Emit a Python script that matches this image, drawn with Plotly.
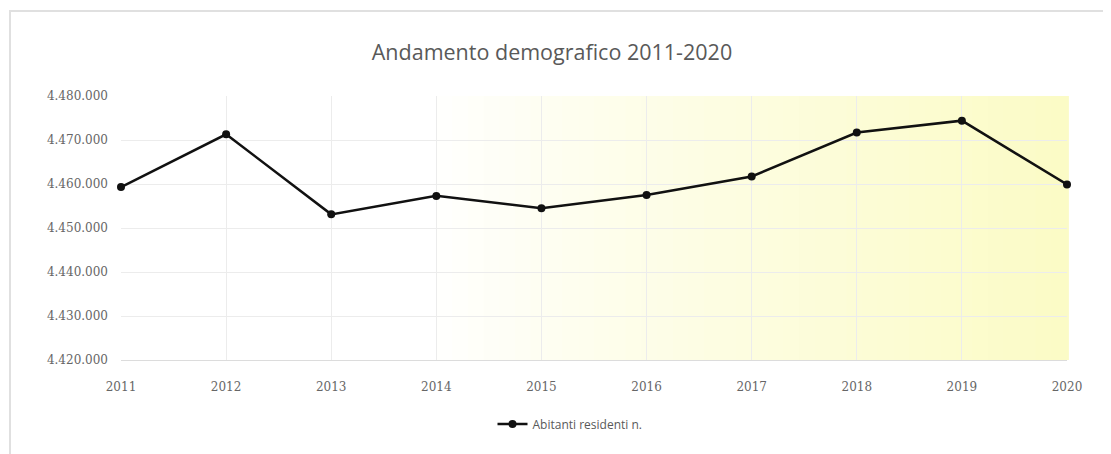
import plotly.graph_objects as go

years = [2011, 2012, 2013, 2014, 2015, 2016, 2017, 2018, 2019, 2020]
abitanti = [4459300, 4471300, 4453100, 4457300, 4454500, 4457500, 4461700, 4471700, 4474400, 4459900]
series_name = "Abitanti residenti n."
title = "Andamento demografico 2011-2020"
y_ticks = [4420000, 4430000, 4440000, 4450000, 4460000, 4470000, 4480000]

W, H = 1111, 454
OFF = 8  # page body margin
# target plot area in screenshot pixels
PL, PR, PT, PB = 121, 1067, 96, 360
pw, ph = PR - PL, PB - PT
L = PL - OFF
T = PT - OFF
R = W - (PR - OFF)
B = H - (PB - OFF)

def px_x(p):
    return (p - PL) / pw

def px_y(p):
    return (PB - p) / ph

shapes = []
# horizontal gradient (white -> pale yellow) in the plot area
n = 60
start = 0.32
for i in range(n):
    x0 = i / n
    x1 = (i + 1) / n
    t = max(0.0, (x0 - start) / (1 - start))
    t = t ** 0.85
    r = 255 - int(round(t * 4))
    g = 255 - int(round(t * 4))
    b = 255 - int(round(t * 58))
    shapes.append(dict(type="rect", xref="x domain", yref="y domain", x0=x0, x1=x1 + 0.002,
                       y0=0, y1=1, fillcolor=f"rgb({r},{g},{b})", line=dict(width=0), layer="below"))
# outer chart frame
shapes.append(dict(type="rect", xref="paper", yref="paper",
                   x0=px_x(10), x1=px_x(1109), y0=px_y(470), y1=px_y(11),
                   line=dict(color="#e0e0e0", width=2), fillcolor="rgba(0,0,0,0)"))

fig = go.Figure()
fig.add_trace(go.Scatter(
    x=years, y=abitanti, name=series_name, mode="lines+markers",
    line=dict(color="#111111", width=2.5),
    marker=dict(color="#111111", size=8),
    cliponaxis=False,
))

fig.update_layout(
    width=W, height=H,
    margin=dict(l=L, r=R, t=T, b=B, autoexpand=False),
    paper_bgcolor="white", plot_bgcolor="white",
    separators=",.",
    shapes=shapes,
    title=dict(text=title, x=px_x(552), xref="paper", xanchor="center",
               y=1 - (52 - OFF) / H, yanchor="middle",
               font=dict(family="Open Sans, Lato, sans-serif", size=21.5, color="#595959")),
    showlegend=True,
    legend=dict(orientation="h", x=px_x(570), xanchor="center", xref="paper",
                y=px_y(424), yanchor="middle",
                font=dict(family="Open Sans, Lato, sans-serif", size=12, color="#595959")),
    xaxis=dict(range=[2011, 2020], tickmode="array", tickvals=years,
               ticktext=[str(y) for y in years], showgrid=True, gridcolor="#ececec",
               zeroline=False, showline=True, linecolor="#dcdcdc", ticks="",
               ticklabelstandoff=16,
               tickfont=dict(family="DejaVu Serif, Liberation Serif, serif", size=12, color="#666666")),
    yaxis=dict(range=[4420000, 4480000], tickmode="array", tickvals=y_ticks,
               tickformat=",d", showgrid=True, gridcolor="#ececec", zeroline=False,
               ticks="", ticklabelstandoff=12,
               tickfont=dict(family="DejaVu Serif, Liberation Serif, serif", size=12, color="#666666")),
)

fig.write_html("out.html")
